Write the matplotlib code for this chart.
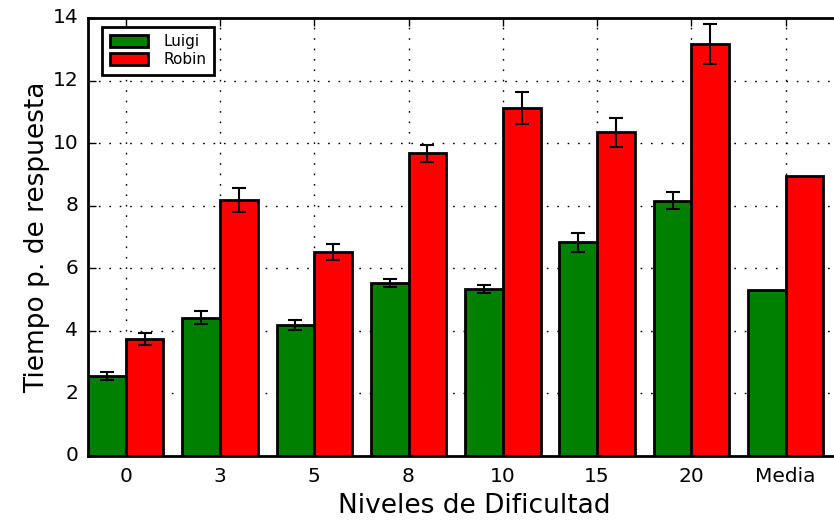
import numpy as np
import matplotlib
matplotlib.use("Agg")
import matplotlib.pyplot as plt

niveles = ["0", "3", "5", "8", "10", "15", "20", "Media"]
luigi = [2.56, 4.42, 4.19, 5.53, 5.34, 6.83, 8.16, 5.29]
robin = [3.73, 8.18, 6.52, 9.68, 11.12, 10.35, 13.16, 8.96]
luigi_err = [0.12, 0.20, 0.17, 0.14, 0.12, 0.30, 0.28]
robin_err = [0.19, 0.38, 0.27, 0.27, 0.50, 0.46, 0.64]

plt.style.use("classic")
plt.rcParams["font.family"] = "DejaVu Sans"

fig = plt.figure(figsize=(8.34, 5.21), dpi=100, facecolor="white")
ax = fig.add_axes([0.1055, 0.1248, 0.927, 0.8407])

x = np.arange(len(niveles))
w = 0.4
ax.bar(x - w / 2, luigi, w, color="green", edgecolor="black", linewidth=2, label="Luigi")
ax.bar(x + w / 2, robin, w, color="red", edgecolor="black", linewidth=2, label="Robin")

# error bars only for the difficulty levels, not for the mean
n = len(luigi_err)
ax.errorbar(x[:n] - w / 2, luigi[:n], yerr=luigi_err, fmt="none", ecolor="black",
            elinewidth=1.5, capsize=5, capthick=1.5)
ax.errorbar(x[:n] + w / 2, robin[:n], yerr=robin_err, fmt="none", ecolor="black",
            elinewidth=1.5, capsize=5, capthick=1.5)

ax.set_xlim(-0.4, 7.8)
ax.set_ylim(0, 14)
ax.set_xticks(x)
ax.set_xticklabels(niveles)
ax.set_yticks(np.arange(0, 15, 2))
ax.tick_params(labelsize=14.5, direction="in", length=6, width=1)
ax.tick_params(axis="x", pad=8)
ax.tick_params(axis="y", pad=7)
for s in ax.spines.values():
    s.set_linewidth(2)
ax.grid(True, color="black", linestyle=(0, (1.2, 6.3)), linewidth=1)
ax.set_axisbelow(True)

ax.set_xlabel("Niveles de Dificultad", fontsize=19)
ax.set_ylabel("Tiempo p. de respuesta", fontsize=19, labelpad=2)

leg = ax.legend(loc="upper left", bbox_to_anchor=(0.018, 0.98), borderaxespad=0,
                fontsize=11, fancybox=False, handlelength=2.5, handleheight=0.8,
                handletextpad=1.0, borderpad=0.5, labelspacing=0.2)
leg.get_frame().set_linewidth(2)
leg.get_frame().set_edgecolor("black")

fig.savefig("out.png", dpi=100, facecolor="white")
